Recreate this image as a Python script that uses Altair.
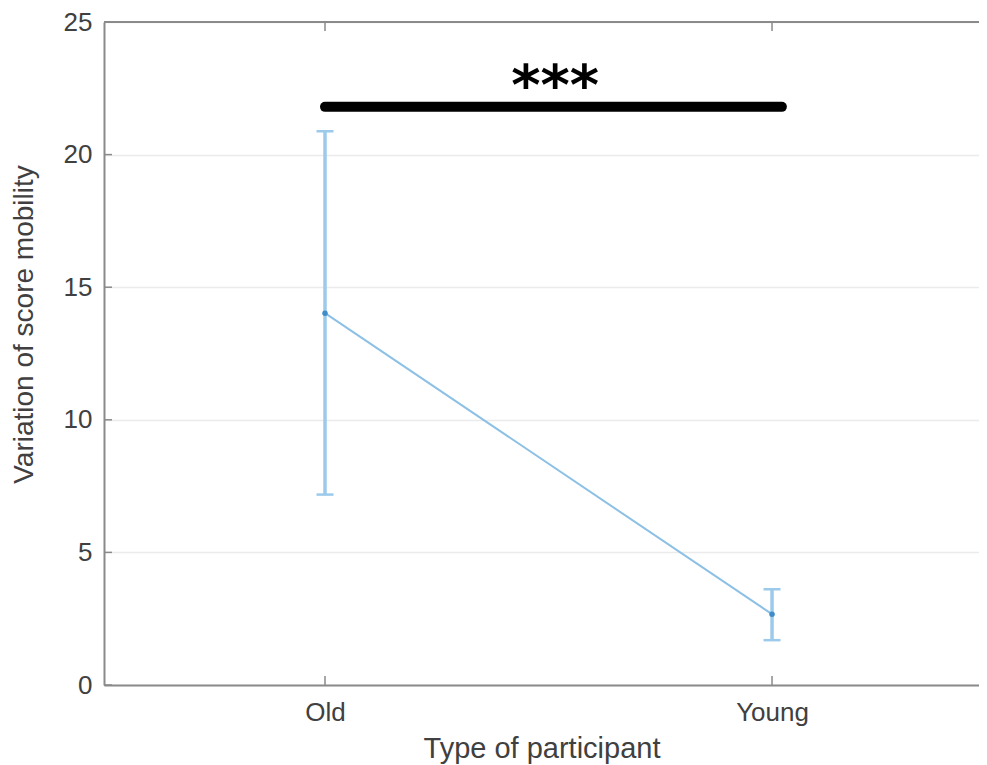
import altair as alt
import pandas as pd

# ---- data ----
groups = ["Old", "Young"]
positions = [1, 2]
means = [14.02, 2.67]
upper = [20.88, 3.61]
lower = [7.18, 1.69]

sig_x_start = 1.0
sig_x_end = 2.022
sig_y = 21.8
star_x = 1.515
star_text = "***"

y_ticks = [0, 5, 10, 15, 20, 25]

W, H = 875, 663
LINE = "#8cc0e5"
AXIS = "#8a8a8a"
LAB = "#404040"
FONT = "Liberation Sans"

df = pd.DataFrame({"group": groups, "pos": positions, "mean": means, "hi": upper, "lo": lower})
sig_df = pd.DataFrame({"x": [sig_x_start], "x2": [sig_x_end], "y": [sig_y]})
star_df = pd.DataFrame({"x": [star_x], "y": [sig_y], "t": [star_text]})
yt_df = pd.DataFrame({"v": y_ticks})

xscale = alt.Scale(domain=[0.5056, 2.463], nice=False, zero=False)
yscale = alt.Scale(domain=[0, 25], nice=False)

label_expr = "[" + ",".join("'" + g + "'" for g in groups) + "][datum.value - 1]"

x_axis = alt.Axis(
    title="Type of participant", values=positions, labelExpr=label_expr,
    grid=False, ticks=False, domainColor=AXIS, domainWidth=2,
    labelFont=FONT, labelFontSize=26, labelColor=LAB, labelPadding=14,
    titleFont=FONT, titleFontSize=29, titleColor=LAB, titleFontWeight="normal",
    titleY=72, titleBaseline="alphabetic",
)
y_axis = alt.Axis(
    title="Variation of score mobility", values=y_ticks,
    grid=True, gridColor="#ebebeb", gridWidth=1.5, ticks=False,
    domainColor=AXIS, domainWidth=2,
    labelFont=FONT, labelFontSize=26, labelColor=LAB, labelPadding=12,
    titleFont=FONT, titleFontSize=28, titleColor=LAB, titleFontWeight="normal",
    titleX=-80, titleY=302, titleAngle=270, titleAlign="center", titleBaseline="middle",
)

base = alt.Chart(df)

line = base.mark_line(color=LINE, strokeWidth=2).encode(
    x=alt.X("pos:Q", scale=xscale, axis=x_axis),
    y=alt.Y("mean:Q", scale=yscale, axis=y_axis),
)
err = base.mark_rule(color="#9ccaea", strokeWidth=3.5).encode(
    x=alt.X("pos:Q", scale=xscale), y=alt.Y("lo:Q", scale=yscale), y2="hi:Q"
)
cap_hi = base.mark_tick(color="#9ccaea", orient="horizontal", size=17, thickness=2.5, opacity=1).encode(
    x=alt.X("pos:Q", scale=xscale), y=alt.Y("hi:Q", scale=yscale)
)
cap_lo = base.mark_tick(color="#9ccaea", orient="horizontal", size=17, thickness=2.5, opacity=1).encode(
    x=alt.X("pos:Q", scale=xscale), y=alt.Y("lo:Q", scale=yscale)
)
pts = base.mark_point(filled=True, color="#3f8cca", size=30, opacity=1).encode(
    x=alt.X("pos:Q", scale=xscale), y=alt.Y("mean:Q", scale=yscale)
)

# inward ticks and top border
ytick_marks = alt.Chart(yt_df).mark_rule(color=AXIS, strokeWidth=1.5).encode(
    y=alt.Y("v:Q", scale=yscale), x=alt.value(0), x2=alt.value(8)
)
xtick_bot = base.mark_rule(color=AXIS, strokeWidth=1.5).encode(
    x=alt.X("pos:Q", scale=xscale), y=alt.value(H), y2=alt.value(H - 9)
)
xtick_top = base.mark_rule(color=AXIS, strokeWidth=1.5).encode(
    x=alt.X("pos:Q", scale=xscale), y=alt.value(0), y2=alt.value(9)
)
top_border = alt.Chart(yt_df).mark_rule(color=AXIS, strokeWidth=2).encode(
    x=alt.value(0), x2=alt.value(W), y=alt.value(0)
)

sig = alt.Chart(sig_df).mark_rule(color="black", strokeWidth=10, strokeCap="round").encode(
    x=alt.X("x:Q", scale=xscale), x2="x2:Q", y=alt.Y("y:Q", scale=yscale)
)
stars = alt.Chart(star_df).mark_text(
    font="DejaVu Sans", fontWeight="bold", fontSize=56, baseline="alphabetic", align="center",
    color="black", dy=-3
).encode(
    x=alt.X("x:Q", scale=xscale), y=alt.Y("y:Q", scale=yscale), text="t:N"
)

chart = alt.layer(
    ytick_marks, xtick_bot, xtick_top, top_border, err, cap_hi, cap_lo, line, pts, sig, stars
).properties(
    width=W, height=H,
    autosize=alt.AutoSizeParams(type="none"),
    padding={"left": 96, "top": 14, "right": 0, "bottom": 80},
).configure_view(stroke=None).configure(background="white")

chart.save("out.html", embed_options={"renderer": "svg", "actions": False})
